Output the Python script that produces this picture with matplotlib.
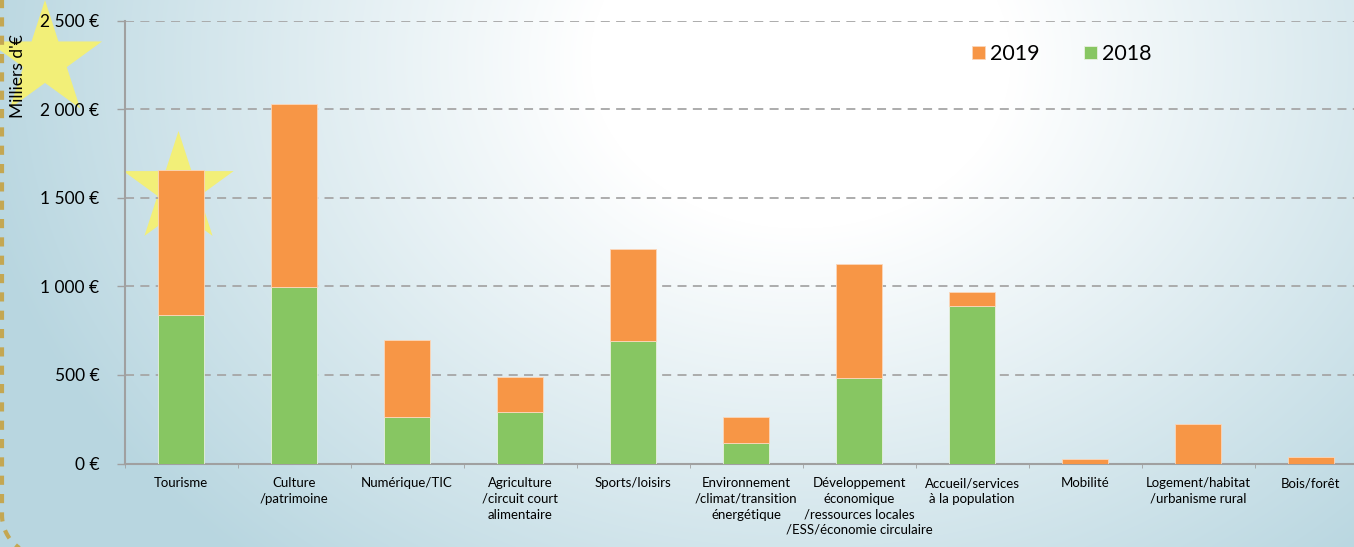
import numpy as np
import matplotlib
matplotlib.use("Agg")
import matplotlib.pyplot as plt
from matplotlib.patches import Polygon
from matplotlib.ticker import FuncFormatter
from matplotlib.transforms import offset_copy

# ---- data ----
categories = ["Tourisme", "Culture\n/patrimoine", "Numérique/TIC",
              "Agriculture\n/circuit court\nalimentaire", "Sports/loisirs",
              "Environnement\n/climat/transition\nénergétique",
              "Développement\néconomique\n/ressources locales\n/ESS/économie circulaire",
              "Accueil/services\nà la population", "Mobilité",
              "Logement/habitat\n/urbanisme rural", "Bois/forêt"]
v2018 = [836, 994, 260, 288, 689, 113, 482, 891, 0, 0, 0]
v2019 = [819, 1034, 437, 198, 520, 147, 642, 77, 28, 225, 37]
series_names = ["2019", "2018"]
yticks = [0, 500, 1000, 1500, 2000, 2500]

ORANGE = "#f79646"
GREEN = "#87c662"
W, H = 1354, 547

plt.rcParams['font.family'] = ['Lato', 'DejaVu Sans']

fig = plt.figure(figsize=(W / 100, H / 100), dpi=100)

# ---- background ----
bg = fig.add_axes([0, 0, 1, 1], zorder=0)
bg.set_xlim(0, W)
bg.set_ylim(H, 0)
bg.axis('off')
yy, xx = np.mgrid[0:H, 0:W]
t = np.sqrt(((xx - 800) / 700.0) ** 2 + ((yy - 60) / 560.0) ** 2)
t = np.clip((t - 0.3) / 0.9, 0, 1)
c0 = np.array([1.0, 1.0, 1.0])
c1 = np.array([0xb8, 0xd6, 0xe0]) / 255.0
img = c0[None, None, :] * (1 - t[..., None]) + c1[None, None, :] * t[..., None]
bg.imshow(img, extent=(0, W, H, 0), aspect='auto', zorder=0)


def star(cx, cy, R):
    pts = []
    r = R * 0.382
    for i in range(10):
        ang = np.pi / 2 + i * np.pi / 5
        rad = R if i % 2 == 0 else r
        pts.append((cx + rad * np.cos(ang), cy - rad * np.sin(ang)))
    return pts


bg.add_patch(Polygon(star(45, 60, 60), closed=True, facecolor="#f2ef78",
                     edgecolor='none', zorder=1))
bg.add_patch(Polygon(star(178.5, 189, 58), closed=True, facecolor="#f2ef78",
                     edgecolor='none', zorder=1))

# dashed decorative border (left side with rounded bottom corner)
th = np.linspace(0, np.pi / 2, 40)
bx = np.concatenate([[2, 2], 42 - 40 * np.cos(th)])
by = np.concatenate([[-5, 515], 515 + 40 * np.sin(th)])
bg.plot(bx, by, color="#c4a752", linewidth=3, linestyle=(0, (2.2, 2.2)), zorder=2,
        solid_capstyle='butt')

# ---- main axes ----
ax = fig.add_axes([124.5 / W, 83.5 / H, 1243 / W, 443 / H], zorder=1)
ax.set_facecolor('none')
x = np.arange(len(categories))
b18 = ax.bar(x, v2018, width=0.4, color=GREEN, edgecolor="#e8f0e0", linewidth=0.6, zorder=3)
b19 = ax.bar(x, v2019, bottom=v2018, width=0.4, color=ORANGE, edgecolor="#fbd7bb",
             linewidth=0.6, zorder=3)

ax.set_xlim(-0.5, len(categories) - 0.5)
ax.set_ylim(0, 2500)
ax.set_yticks(yticks)
ax.yaxis.set_major_formatter(FuncFormatter(lambda v, p: f"{v:,.0f}".replace(",", " ") + " €"))
ax.grid(axis='y', color="#a6a6a6", linestyle=(0, (5, 3.5)), linewidth=1.3, zorder=1)
ax.set_axisbelow(True)
for s in ['top', 'right']:
    ax.spines[s].set_visible(False)
for s in ['left', 'bottom']:
    ax.spines[s].set_color("#a0a0a0")
    ax.spines[s].set_linewidth(1.5)
ax.tick_params(axis='y', length=6, width=1, color="#a0a0a0", labelsize=12.5, pad=12,
               labelcolor='black')

# x tick labels: at most 3 lines in the tick label, further lines as extra text below
FS, LS, PAD = 9.5, 1.36, 10
tick_labels, extra = [], []
for i, lab in enumerate(categories):
    lines = lab.split("\n")
    tick_labels.append("\n".join(lines[:3]))
    if len(lines) > 3:
        extra.append((i, "\n".join(lines[3:])))
ax.set_xticks(x)
ax.set_xticklabels(tick_labels, fontsize=FS, linespacing=LS)
ax.tick_params(axis='x', which='major', length=0, pad=PAD)
ax.set_xticks(np.arange(-0.5, len(categories), 1), minor=True)
ax.tick_params(axis='x', which='minor', length=3, color="#a0a0a0")
tr = offset_copy(ax.get_xaxis_transform(), fig=fig, y=-(PAD + 3 * FS * LS) + 5.5,
                 units='points')
for i, txt in extra:
    ax.text(x[i], 0, txt, transform=tr, ha='center', va='top', fontsize=FS,
            linespacing=LS, clip_on=False)

fig.text(18 / W, 1 - 76 / H, "Milliers d'€", rotation=90, ha='center', va='center',
         fontsize=12.5)

ax.legend([b19, b18], series_names, loc='upper left', ncol=2, frameon=False,
          bbox_to_anchor=(972 / W, 1 - 44 / H), bbox_transform=fig.transFigure,
          fontsize=15.5, handlelength=0.6, handleheight=0.6, handletextpad=0.25,
          columnspacing=2.05, borderpad=0, borderaxespad=0)

fig.savefig("out.png", dpi=100)
